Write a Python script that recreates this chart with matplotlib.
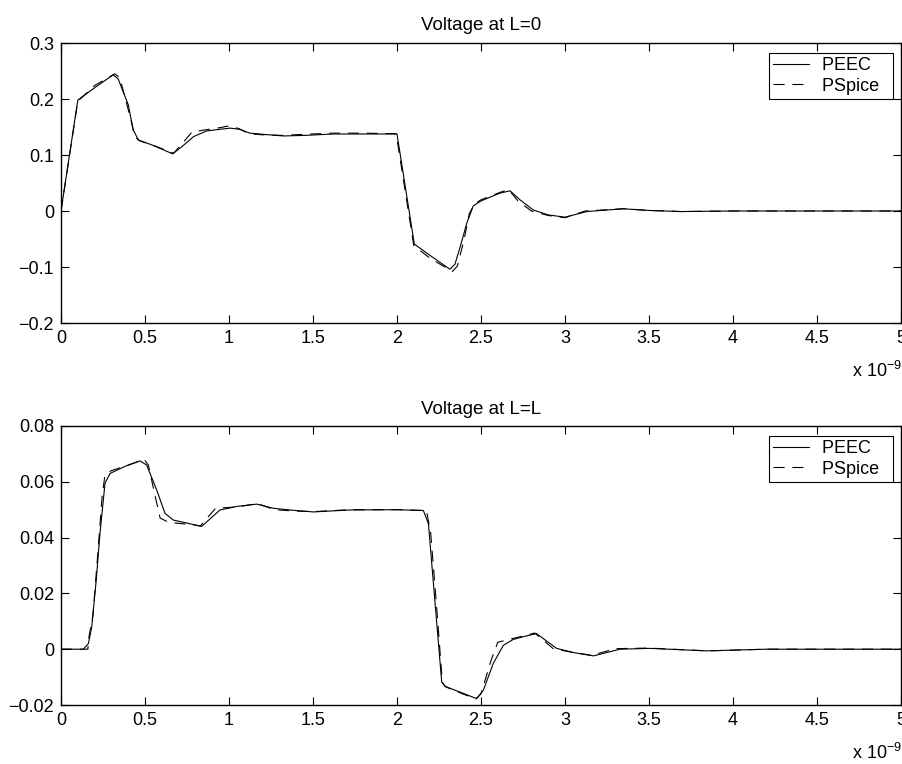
import matplotlib
matplotlib.use("Agg")
import matplotlib.pyplot as plt

plt.rcParams['font.family'] = ['Liberation Sans', 'DejaVu Sans']

# ---- data (time in ns, voltage) ----
t_peec_0 = [0, 0.10, 0.20, 0.31, 0.34, 0.40, 0.43, 0.46, 0.55, 0.665, 0.72, 0.79, 0.867, 0.95, 1.006, 1.06,
            1.125, 1.2, 1.323, 1.45, 1.62, 1.8, 2.0, 2.103, 2.2, 2.315, 2.345, 2.38, 2.415, 2.454, 2.5,
            2.613, 2.673, 2.732, 2.81, 2.9, 3.0, 3.13, 3.347, 3.5, 3.685, 4.0, 4.5, 5.0]
v_peec_0 = [0, 0.198, 0.220, 0.243, 0.236, 0.19, 0.145, 0.127, 0.117, 0.102, 0.115, 0.133, 0.143, 0.146,
            0.148, 0.146, 0.139, 0.137, 0.134, 0.135, 0.1375, 0.1375, 0.1375, -0.059, -0.080, -0.104,
            -0.095, -0.06, -0.022, 0.009, 0.018, 0.032, 0.036, 0.020, 0.002, -0.007, -0.011, -0.001,
            0.004, 0.001, -0.001, 0, 0, 0]

t_pspice_0 = [0, 0.10, 0.20, 0.32, 0.35, 0.41, 0.44, 0.47, 0.56, 0.67, 0.72, 0.78, 0.86, 0.95, 1.0, 1.06,
              1.12, 1.2, 1.32, 1.45, 1.62, 1.8, 1.995, 2.10, 2.2, 2.33, 2.36, 2.40, 2.43, 2.46, 2.5,
              2.62, 2.665, 2.72, 2.80, 2.9, 3.0, 3.12, 3.35, 3.5, 3.7, 4.0, 4.5, 5.0]
v_pspice_0 = [0, 0.196, 0.224, 0.245, 0.238, 0.17, 0.132, 0.125, 0.116, 0.103, 0.12, 0.141, 0.145, 0.149,
              0.152, 0.147, 0.138, 0.136, 0.135, 0.137, 0.139, 0.139, 0.138, -0.062, -0.085, -0.108,
              -0.098, -0.05, -0.005, 0.012, 0.020, 0.034, 0.038, 0.018, 0.000, -0.008, -0.012, 0.000,
              0.004, 0.001, -0.001, 0, 0, 0]

t_peec_L = [0, 0.133, 0.163, 0.183, 0.21, 0.232, 0.262, 0.292, 0.38, 0.47, 0.51, 0.57, 0.619, 0.668, 0.75,
            0.837, 0.946, 1.05, 1.165, 1.264, 1.38, 1.502, 1.72, 2.0, 2.157, 2.187, 2.226, 2.266, 2.286,
            2.38, 2.474, 2.514, 2.573, 2.633, 2.692, 2.76, 2.83, 2.95, 3.05, 3.17, 3.327, 3.506, 3.84,
            4.2, 5.0]
v_peec_L = [0, 0, 0.002, 0.008, 0.025, 0.0415, 0.0595, 0.063, 0.0655, 0.0675, 0.066, 0.057, 0.0487,
            0.0463, 0.0452, 0.044, 0.0499, 0.0512, 0.052, 0.0505, 0.0498, 0.0492, 0.0499, 0.05, 0.0497,
            0.045, 0.017, -0.0117, -0.0133, -0.0155, -0.0177, -0.0147, -0.0051, 0.0014, 0.0035,
            0.0046, 0.0056, 0.0003, -0.0012, -0.0024, 0.0, 0.0003, -0.0006, 0, 0]

t_pspice_L = [0, 0.16, 0.165, 0.19, 0.22, 0.245, 0.262, 0.30, 0.40, 0.495, 0.52, 0.56, 0.59, 0.64, 0.75,
              0.83, 0.92, 1.05, 1.17, 1.27, 1.40, 1.5, 1.72, 2.0, 2.175, 2.20, 2.24, 2.27, 2.29, 2.39,
              2.47, 2.50, 2.56, 2.60, 2.70, 2.77, 2.82, 2.93, 3.05, 3.16, 3.3, 3.5, 3.85, 4.2, 5.0]
v_pspice_L = [0, 0, 0.004, 0.012, 0.035, 0.055, 0.0625, 0.064, 0.066, 0.068, 0.066, 0.055, 0.047, 0.0455,
              0.0448, 0.0442, 0.0505, 0.051, 0.0522, 0.050, 0.0495, 0.0493, 0.05, 0.05, 0.0497, 0.042,
              0.012, -0.012, -0.0135, -0.016, -0.0178, -0.016, -0.004, 0.0025, 0.004, 0.005, 0.0058,
              0.0002, -0.0012, -0.0022, 0.0002, 0.0004, -0.0006, 0, 0]

x_ticks = [0, 0.5, 1, 1.5, 2, 2.5, 3, 3.5, 4, 4.5, 5]
x_ticklabels = ['0', '0.5', '1', '1.5', '2', '2.5', '3', '3.5', '4', '4.5', '5']
y_ticks_0 = [-0.2, -0.1, 0, 0.1, 0.2, 0.3]
y_ticklabels_0 = ['\u22120.2', '\u22120.1', '0', '0.1', '0.2', '0.3']
y_ticks_L = [-0.02, 0, 0.02, 0.04, 0.06, 0.08]
y_ticklabels_L = ['\u22120.02', '0', '0.02', '0.04', '0.06', '0.08']
titles = ['Voltage at L=0', 'Voltage at L=L']
legend_labels = ['PEEC', 'PSpice']

FS = 13
FS_TITLE = 13.5
FS_LEG = 13
fig = plt.figure(figsize=(9.03, 7.64), dpi=100)
ax_top = fig.add_axes([61/903, 1 - 323/764, 840/903, 280/764])
ax_bot = fig.add_axes([61/903, 1 - 705/764, 840/903, 279/764])

panels = [
    (ax_top, t_peec_0, v_peec_0, t_pspice_0, v_pspice_0, y_ticks_0, y_ticklabels_0, (-0.2, 0.3), titles[0]),
    (ax_bot, t_peec_L, v_peec_L, t_pspice_L, v_pspice_L, y_ticks_L, y_ticklabels_L, (-0.02, 0.08), titles[1]),
]

for ax, ta, va, tb, vb, yt, ytl, ylim, title in panels:
    l1, = ax.plot(ta, va, color='black', lw=0.8)
    l2, = ax.plot(tb, vb, color='black', lw=0.8)
    l2.set_dashes((10, 7))
    ax.set_xlim(0, 5)
    ax.set_ylim(*ylim)
    ax.set_xticks(x_ticks)
    ax.set_xticklabels(x_ticklabels)
    ax.set_yticks(yt)
    ax.set_yticklabels(ytl)
    ax.tick_params(direction='in', length=6, width=0.8, top=True, right=True,
                   labelsize=FS, pad=5)
    for s in ax.spines.values():
        s.set_linewidth(1.0)
    ax.set_title(title, fontsize=FS_TITLE, pad=9)
    leg = ax.legend([l1, l2], [lab + '  ' for lab in legend_labels],
                    loc='upper right', bbox_to_anchor=(0.990, 0.964), borderaxespad=0,
                    fontsize=FS_LEG, fancybox=False, framealpha=1, edgecolor='black',
                    handlelength=2.0, handletextpad=0.7, borderpad=0.22, labelspacing=0.2)
    leg.get_frame().set_linewidth(0.8)
    ax.text(1.001, -0.171, 'x 10$^{\\mathregular{-9}}$', transform=ax.transAxes,
            ha='right', va='center', fontsize=FS)

fig.savefig('out.png', dpi=100)
